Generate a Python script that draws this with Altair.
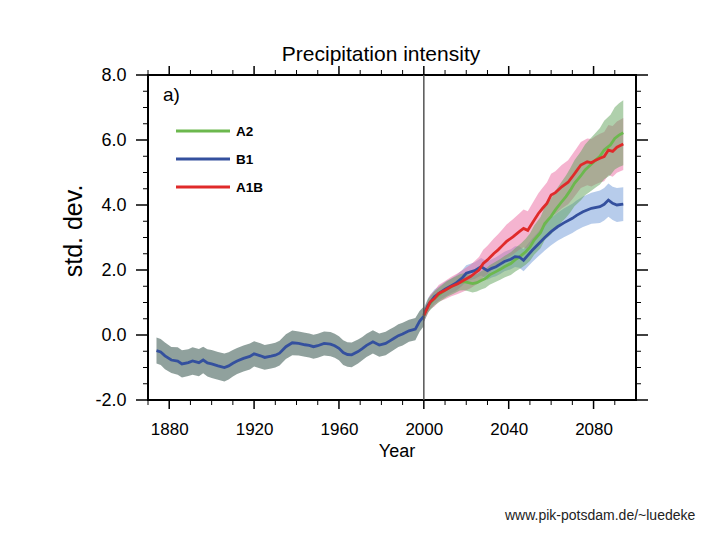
import altair as alt
import pandas as pd

# ---------------- data ----------------
hist_years = [1874, 1876, 1878, 1881, 1884, 1886, 1889, 1891, 1894, 1896,
              1898, 1900, 1903, 1906, 1908, 1910, 1912, 1915, 1918,
              1920, 1923, 1925, 1928, 1930, 1932, 1935, 1938, 1941, 1944,
              1946, 1948, 1950, 1953, 1956, 1958, 1960, 1962, 1964, 1966,
              1969, 1971, 1973, 1976, 1979, 1982, 1984, 1986, 1988, 1990,
              1993, 1996, 1998, 2000]
hist_values = [-0.48, -0.52, -0.64, -0.77, -0.80, -0.89, -0.85, -0.80, -0.85, -0.77,
               -0.86, -0.89, -0.95, -1.00, -0.95, -0.87, -0.80, -0.72, -0.66,
               -0.58, -0.64, -0.69, -0.65, -0.62, -0.56, -0.36, -0.24, -0.26, -0.30,
               -0.32, -0.36, -0.33, -0.26, -0.28, -0.33, -0.41, -0.54, -0.60, -0.61,
               -0.51, -0.42, -0.32, -0.21, -0.31, -0.26, -0.18, -0.10, -0.02, 0.03,
               0.13, 0.18, 0.42, 0.58]
hist_spread = [0.40, 0.40, 0.41, 0.40, 0.42, 0.42, 0.41, 0.42, 0.42, 0.41,
               0.42, 0.43, 0.43, 0.43, 0.42, 0.41, 0.40, 0.40, 0.40,
               0.39, 0.39, 0.38, 0.38, 0.38, 0.38, 0.38, 0.38, 0.37, 0.37,
               0.37, 0.37, 0.37, 0.37, 0.37, 0.37, 0.37, 0.38, 0.38, 0.38,
               0.37, 0.36, 0.36, 0.36, 0.36, 0.36, 0.36, 0.35, 0.35, 0.35,
               0.34, 0.34, 0.32, 0.30]

b1_years = [2000, 2002, 2005, 2008, 2010, 2013, 2015, 2018, 2020, 2022,
            2024, 2027, 2030, 2032, 2034, 2036, 2038, 2041, 2043, 2045,
            2047, 2049, 2051, 2054, 2057, 2060, 2063, 2066, 2070, 2072,
            2075, 2079, 2083, 2085, 2087, 2089, 2091, 2094]
b1_values = [0.62, 0.92, 1.18, 1.32, 1.41, 1.52, 1.59, 1.75, 1.90, 1.94,
             1.98, 2.10, 1.98, 2.05, 2.10, 2.18, 2.26, 2.33, 2.41, 2.40,
             2.30, 2.45, 2.60, 2.80, 3.00, 3.18, 3.33, 3.45, 3.59, 3.68,
             3.79, 3.90, 3.95, 4.02, 4.15, 4.05, 4.00, 4.03]
b1_spread = [0.22, 0.22, 0.22, 0.22, 0.23, 0.23, 0.24, 0.24, 0.25, 0.25,
             0.26, 0.27, 0.28, 0.28, 0.29, 0.30, 0.30, 0.31, 0.32, 0.33,
             0.34, 0.35, 0.36, 0.38, 0.40, 0.42, 0.43, 0.44, 0.45, 0.46,
             0.47, 0.48, 0.50, 0.50, 0.51, 0.51, 0.52, 0.52]

a1b_years = [2000, 2003, 2005, 2007, 2010, 2013, 2016, 2019, 2022, 2024,
             2026, 2028, 2030, 2033, 2035, 2037, 2039, 2042, 2045, 2047,
             2049, 2051, 2054, 2056, 2058, 2060, 2062, 2065, 2068, 2070,
             2072, 2074, 2077, 2079, 2081, 2083, 2085, 2087, 2089, 2091,
             2094]
a1b_values = [0.60, 1.02, 1.12, 1.28, 1.38, 1.49, 1.58, 1.69, 1.80, 1.90,
              2.00, 2.20, 2.31, 2.51, 2.62, 2.75, 2.88, 3.02, 3.18, 3.28,
              3.22, 3.43, 3.74, 3.90, 4.05, 4.31, 4.38, 4.56, 4.70, 4.87,
              5.05, 5.23, 5.33, 5.30, 5.38, 5.44, 5.49, 5.69, 5.65, 5.78,
              5.88]
a1b_spread = [0.20, 0.22, 0.24, 0.26, 0.28, 0.30, 0.32, 0.34, 0.36, 0.38,
              0.40, 0.42, 0.44, 0.46, 0.48, 0.50, 0.52, 0.54, 0.56, 0.58,
              0.59, 0.60, 0.62, 0.63, 0.64, 0.65, 0.66, 0.67, 0.68, 0.69,
              0.70, 0.71, 0.72, 0.73, 0.74, 0.75, 0.76, 0.77, 0.78, 0.79,
              0.80]

a2_years = [2000, 2002, 2005, 2008, 2011, 2014, 2017, 2019, 2021, 2023,
            2025, 2027, 2029, 2031, 2034, 2036, 2038, 2041, 2043, 2046,
            2048, 2050, 2052, 2055, 2057, 2060, 2062, 2065, 2067, 2069,
            2071, 2074, 2076, 2078, 2081, 2083, 2085, 2088, 2090, 2092,
            2094]
a2_values = [0.60, 0.90, 1.13, 1.28, 1.42, 1.52, 1.62, 1.64, 1.61, 1.58,
             1.61, 1.68, 1.74, 1.85, 1.95, 2.02, 2.10, 2.20, 2.31, 2.45,
             2.56, 2.70, 2.92, 3.15, 3.43, 3.65, 3.85, 4.10, 4.26, 4.45,
             4.67, 4.90, 5.08, 5.20, 5.38, 5.50, 5.69, 5.85, 6.05, 6.15,
             6.22]
a2_spread = [0.20, 0.21, 0.22, 0.23, 0.24, 0.25, 0.25, 0.26, 0.26, 0.27,
             0.27, 0.28, 0.29, 0.30, 0.31, 0.32, 0.33, 0.35, 0.36, 0.38,
             0.40, 0.42, 0.45, 0.48, 0.51, 0.55, 0.58, 0.62, 0.65, 0.68,
             0.71, 0.75, 0.78, 0.81, 0.84, 0.87, 0.90, 0.93, 0.96, 0.98,
             1.00]

x_major = [1880, 1920, 1960, 2000, 2040, 2080]
x_minor = [1870, 1890, 1900, 1910, 1930, 1940, 1950, 1970, 1980, 1990,
           2010, 2020, 2030, 2050, 2060, 2070, 2090]
y_major = [-2.0, 0.0, 2.0, 4.0, 6.0, 8.0]
y_minor = [-1.5, -1.0, -0.5, 0.5, 1.0, 1.5, 2.5, 3.0, 3.5, 4.5, 5.0, 5.5,
           6.5, 7.0, 7.5]

scenarios = ["A2", "B1", "A1B"]
line_colors = {"A2": "#6cb84e", "B1": "#34509e", "A1B": "#e02a2a"}
band_colors = {"A2": "#5fa25a", "B1": "#6f9ad8", "A1B": "#ec6aa2"}

# ---------------- layout ----------------
W, H = 488, 325
FONT = "Liberation Sans"


def frame(years, values, spread):
    return pd.DataFrame({
        "year": years,
        "value": values,
        "lo": [v - s for v, s in zip(values, spread)],
        "hi": [v + s for v, s in zip(values, spread)],
    })


hist_df = frame(hist_years, hist_values, hist_spread)
proj = {
    "A2": frame(a2_years, a2_values, a2_spread),
    "B1": frame(b1_years, b1_values, b1_spread),
    "A1B": frame(a1b_years, a1b_values, a1b_spread),
}

x_scale = alt.Scale(domain=[1870, 2100], nice=False, zero=False)
y_scale = alt.Scale(domain=[-2, 8], nice=False, zero=False)

x_axis = alt.Axis(values=x_major, format="d", ticks=False, domain=False, grid=False,
                  title=None, labelFont=FONT, labelFontSize=17, labelColor="black",
                  labelPadding=21, labelFlush=False)
y_axis = alt.Axis(values=y_major, ticks=False, domain=False, grid=False,
                  title=None, labelFont=FONT, labelFontSize=18, labelColor="black",
                  labelPadding=22, labelFlush=False,
                  labelExpr="datum.value < 0 ? '-' + format(-datum.value, '.1f') : format(datum.value, '.1f')")


def X(field):
    return alt.X(field, type="quantitative", scale=x_scale, axis=x_axis)


def Y(field):
    return alt.Y(field, type="quantitative", scale=y_scale, axis=y_axis)


layers = []

# historical band + projection bands
layers.append(alt.Chart(hist_df).mark_area(color="#8a9c98", opacity=0.95).encode(
    x=X("year"), y=Y("lo"), y2="hi"))
for name in ["B1", "A1B", "A2"]:
    layers.append(alt.Chart(proj[name]).mark_area(color=band_colors[name], opacity=0.5).encode(
        x=X("year"), y=Y("lo"), y2="hi"))

# lines
layers.append(alt.Chart(hist_df).mark_line(color=line_colors["B1"], strokeWidth=2.8).encode(
    x=X("year"), y=Y("value")))
for name in ["A2", "B1", "A1B"]:
    layers.append(alt.Chart(proj[name]).mark_line(color=line_colors[name], strokeWidth=2.8).encode(
        x=X("year"), y=Y("value")))

# vertical line at 2000
layers.append(alt.Chart(pd.DataFrame({"year": [2000]})).mark_rule(
    color="#555555", strokeWidth=1.5).encode(x=X("year")))

# tick marks on all four sides
xmaj = pd.DataFrame({"year": x_major})
xmin = pd.DataFrame({"year": x_minor})
ymaj = pd.DataFrame({"value": y_major})
ymin = pd.DataFrame({"value": y_minor})
for df, a, b, w in [(xmaj, H, H + 9, 1.5), (xmin, H, H + 5, 1), (xmaj, 0, -9, 1.5), (xmin, 0, -5, 1)]:
    layers.append(alt.Chart(df).mark_rule(color="black", strokeWidth=w).encode(
        x=X("year"), y=alt.value(a), y2=alt.value(b)))
for df, a, b, w in [(ymaj, 0, -12, 1.5), (ymin, 0, -5, 1), (ymaj, W, W + 12, 1.5), (ymin, W, W + 5, 1)]:
    layers.append(alt.Chart(df).mark_rule(color="black", strokeWidth=w).encode(
        y=Y("value"), x=alt.value(a), x2=alt.value(b)))

# legend (manual, inside plot)
legend_y = [56, 84, 112]
for name, ly in zip(scenarios, legend_y):
    layers.append(alt.Chart(pd.DataFrame({"t": [name]})).mark_rule(
        color=line_colors[name], strokeWidth=2.8).encode(
        x=alt.value(28), x2=alt.value(82), y=alt.value(ly)))
    layers.append(alt.Chart(pd.DataFrame({"t": [name]})).mark_text(
        font=FONT, fontSize=13.5, fontWeight="bold", align="left", baseline="middle",
        color="black").encode(text="t:N", x=alt.value(88), y=alt.value(ly + 0.5)))


def label(text, x, y, size, **kw):
    return alt.Chart(pd.DataFrame({"t": [text]})).mark_text(
        font=FONT, fontSize=size, color=kw.pop("color", "black"), **kw).encode(
        text="t:N", x=alt.value(x), y=alt.value(y))


layers.append(label("Precipitation intensity", 233, -14, 21, align="center", baseline="alphabetic"))
layers.append(label("a)", 15, 26, 19, align="left", baseline="alphabetic"))
layers.append(label("std. dev.", -74, 156, 25, align="center", baseline="middle", angle=270))
layers.append(label("Year", 249, 382, 18, align="center", baseline="alphabetic"))
layers.append(label("www.pik-potsdam.de/~luedeke", 357, 445, 14, align="left",
                    baseline="alphabetic", color="#222222"))

chart = alt.layer(*layers).properties(
    width=W, height=H,
    autosize=alt.AutoSizeParams(type="none"),
    padding={"left": 140, "top": 67, "right": 76, "bottom": 125},
    background="white",
).configure_view(stroke="black", strokeWidth=2)

chart.save("out.html", embed_options={"renderer": "svg", "actions": False})
